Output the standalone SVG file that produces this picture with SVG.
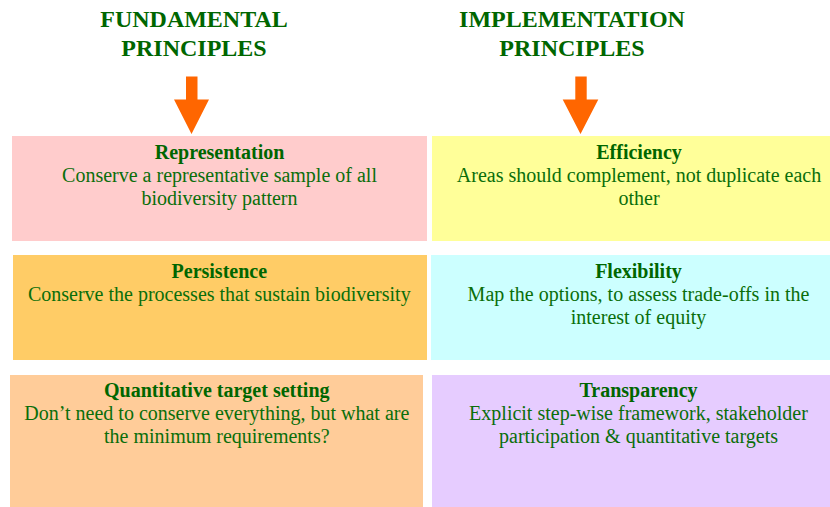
<svg xmlns="http://www.w3.org/2000/svg" width="830" height="507" viewBox="0 0 830 507">
  <style>
    .head { font-family: "Liberation Serif", "Times New Roman", serif; font-weight: bold; font-size: 24px; fill: #006600; text-anchor: middle; }
    .title { font-family: "Liberation Serif", "Times New Roman", serif; font-weight: bold; font-size: 20px; fill: #006600; text-anchor: middle; }
    .body { font-family: "Liberation Serif", "Times New Roman", serif; font-size: 20px; fill: #0a6e0a; text-anchor: middle; }
    .arrow { fill: #FF6600; }
  </style>
  <rect width="830" height="507" fill="#FFFFFF"/>

  <!-- column headings -->
  <g id="head-fundamental">
    <text class="head" x="194" y="27">FUNDAMENTAL</text>
    <text class="head" x="194" y="55.5">PRINCIPLES</text>
  </g>
  <g id="head-implementation">
    <text class="head" x="572" y="27">IMPLEMENTATION</text>
    <text class="head" x="572" y="55.5">PRINCIPLES</text>
  </g>

  <!-- downward block arrows -->
  <g id="connectors">
    <polygon class="arrow" points="186,76.5 197.5,76.5 197.5,99.5 209,99.5 191.5,134 174,99.5 186,99.5"/>
    <polygon class="arrow" points="575.3,76.5 586.7,76.5 586.7,99.5 598.3,99.5 580.5,134 562.7,99.5 575.3,99.5"/>
  </g>

  <!-- fundamental principles -->
  <g id="representation">
    <rect x="12" y="136" width="415" height="105" fill="#FFCCCC"/>
    <text class="title" x="219.5" y="159.3">Representation</text>
    <text class="body" x="219.5" y="182.3">Conserve a representative sample of all</text>
    <text class="body" x="219.5" y="204.5">biodiversity pattern</text>
  </g>
  <g id="persistence">
    <rect x="13" y="255" width="414" height="105" fill="#FFCC66"/>
    <text class="title" x="219.3" y="277.7">Persistence</text>
    <text class="body" x="219.3" y="300.7">Conserve the processes that sustain biodiversity</text>
  </g>
  <g id="quantitative">
    <rect x="10" y="375" width="413" height="132" fill="#FFCC99"/>
    <text class="title" x="216.8" y="397.3">Quantitative target setting</text>
    <text class="body" x="216.8" y="420">Don’t need to conserve everything, but what are</text>
    <text class="body" x="216.8" y="442.7">the minimum requirements?</text>
  </g>

  <!-- implementation principles -->
  <g id="efficiency">
    <rect x="432" y="136" width="398" height="105" fill="#FFFF99"/>
    <text class="title" x="639" y="159.3">Efficiency</text>
    <text class="body" x="639" y="182.3">Areas should complement, not duplicate each</text>
    <text class="body" x="639" y="204.5">other</text>
  </g>
  <g id="flexibility">
    <rect x="431" y="255" width="399" height="105" fill="#CCFFFF"/>
    <text class="title" x="638.5" y="277.7">Flexibility</text>
    <text class="body" x="638.5" y="300.7">Map the options, to assess trade-offs in the</text>
    <text class="body" x="638.5" y="324">interest of equity</text>
  </g>
  <g id="transparency">
    <rect x="432" y="375" width="398" height="132" fill="#E6CCFF"/>
    <text class="title" x="638.5" y="397.3">Transparency</text>
    <text class="body" x="638.5" y="420">Explicit step-wise framework, stakeholder</text>
    <text class="body" x="638.5" y="442.7">participation &amp; quantitative targets</text>
  </g>
</svg>
